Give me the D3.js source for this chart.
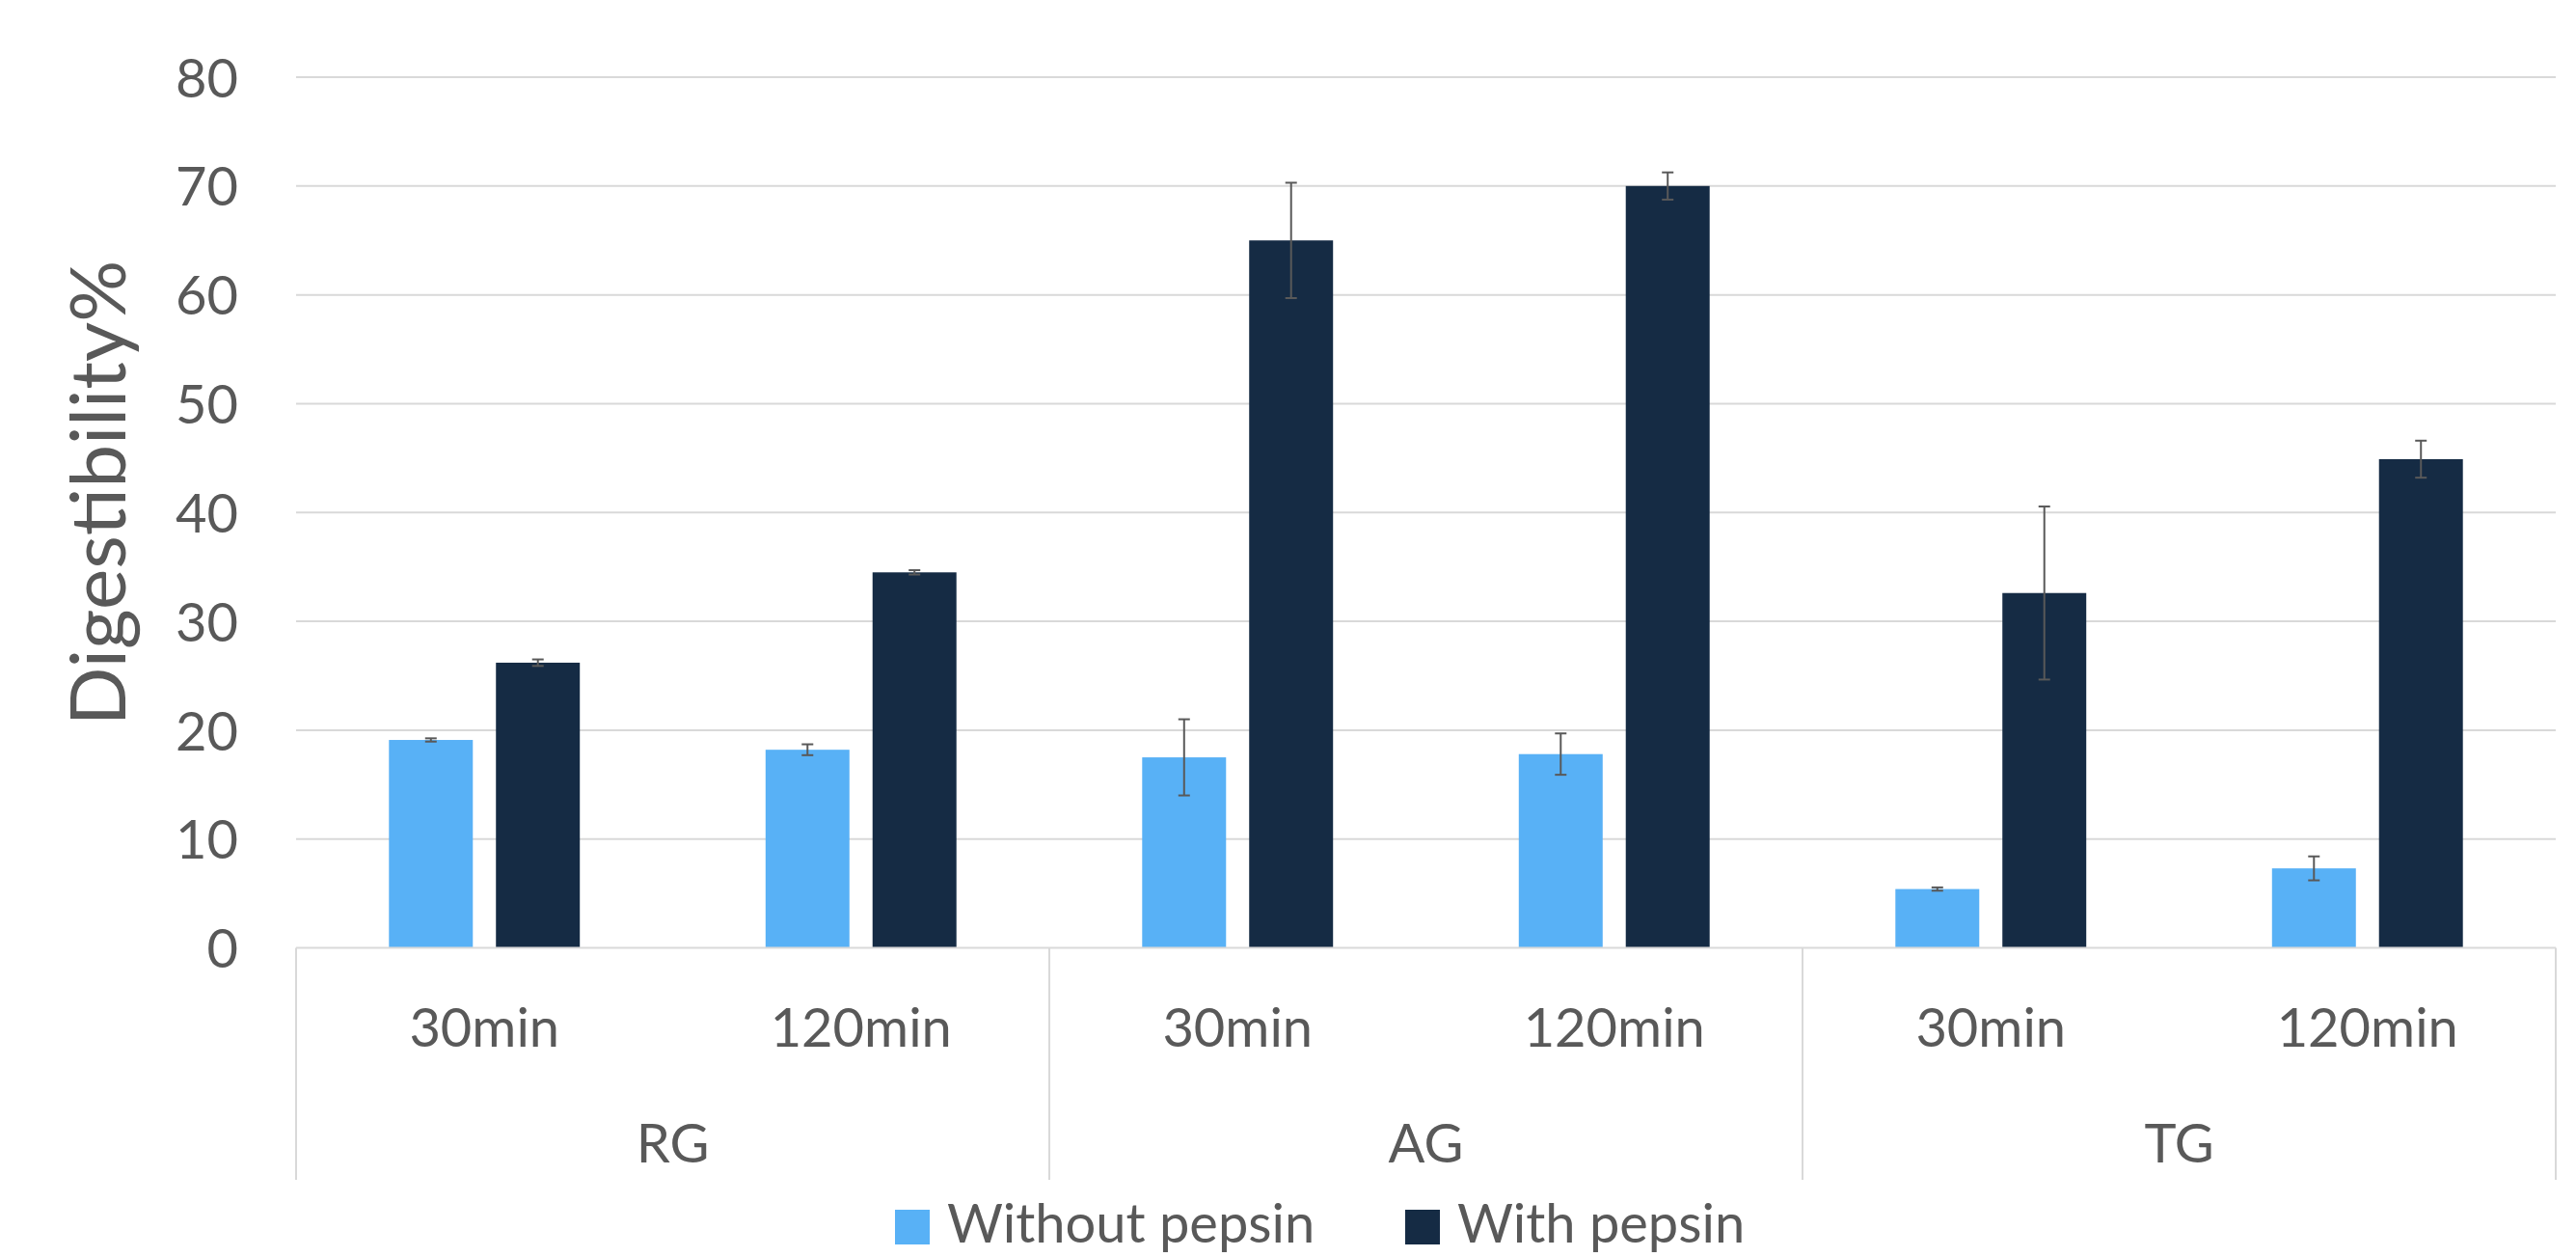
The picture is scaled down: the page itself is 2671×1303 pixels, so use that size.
<!DOCTYPE html>
<html>
<head>
<meta charset="utf-8">
<script src="https://cdn.jsdelivr.net/npm/d3@7"></script>
<style>
    body { margin: 0; background: #fff; }
    svg { display: block; font-family: Lato, "Open Sans", sans-serif; }
</style>
</head>
<body>
<svg width="2671" height="1303"></svg>
<script>
// данные графика
const groups = ["RG", "AG", "TG"]
const times = ["30min", "120min"]
const seriesNames = ["Without pepsin", "With pepsin"]
const withoutPepsin = [19.1, 18.2, 17.5, 17.8, 5.4, 7.3]
const withoutErr = [0.15, 0.5, 3.5, 1.9, 0.15, 1.1]
const withPepsin = [26.2, 34.5, 65.0, 70.0, 32.6, 44.9]
const withErr = [0.3, 0.2, 5.3, 1.25, 7.95, 1.7]
const yTicks = [0, 10, 20, 30, 40, 50, 60, 70, 80]

const colors = ["#58b1f6", "#152b44"]
const textColor = "#595959"
const gridColor = "#d9d9d9"

let svg = d3.select("svg")

attr_area = {
    left: 307,
    right: 2650,
    top: 80,
    bottom: 982.5,
    axisBoxBottom: 1223
}

// категории: группа + время
let cats = []
groups.forEach(g => times.forEach(t => cats.push({group: g, time: t, key: g + "|" + t})))

let rows = cats.map((c, i) => ({
    key: c.key,
    values: [
        {s: 0, v: withoutPepsin[i], e: withoutErr[i]},
        {s: 1, v: withPepsin[i], e: withErr[i]}
    ]
}))

let scaleX = d3.scaleBand()
    .domain(cats.map(c => c.key))
    .range([attr_area.left, attr_area.right])
    .padding(0)

let scaleGroup = d3.scaleBand()
    .domain(groups)
    .range([attr_area.left, attr_area.right])
    .padding(0)

let scaleS = d3.scaleBand()
    .domain([0, 1])
    .range([0, scaleX.bandwidth()])
    .paddingInner(0.216)
    .paddingOuter(0.868)

let scaleY = d3.scaleLinear()
    .domain([0, 80])
    .range([attr_area.bottom, attr_area.top])

// сетка
svg.append("g")
    .selectAll("line")
    .data(yTicks.slice(1))
    .enter()
    .append("line")
    .attr("x1", attr_area.left)
    .attr("x2", attr_area.right)
    .attr("y1", d => scaleY(d))
    .attr("y2", d => scaleY(d))
    .style("stroke", gridColor)
    .style("stroke-width", 2)

// подписи оси OY
let axisY = d3.axisLeft(scaleY).tickValues(yTicks).tickSize(0).tickPadding(60)
svg.append("g")
    .attr("transform", `translate(${attr_area.left}, 0)`)
    .call(axisY)
    .call(g => g.select(".domain").remove())
    .selectAll("text")
    .attr("dy", "0.36em")
    .style("font-family", "Lato")
    .style("font-size", "56px")
    .style("fill", textColor)

// столбцы
let cat = svg.append("g")
    .selectAll("g")
    .data(rows)
    .enter()
    .append("g")
    .attr("transform", d => `translate(${scaleX(d.key)}, 0)`)

cat.selectAll("rect")
    .data(d => d.values)
    .enter()
    .append("rect")
    .attr("x", d => scaleS(d.s))
    .attr("y", d => scaleY(d.v))
    .attr("width", scaleS.bandwidth())
    .attr("height", d => attr_area.bottom - scaleY(d.v))
    .style("fill", d => colors[d.s])

// планки погрешностей
const capW = 6
let err = cat.selectAll(".err")
    .data(d => d.values)
    .enter()
    .append("g")
    .attr("class", "err")
    .style("stroke", textColor)
    .style("stroke-width", 2)

err.append("line")
    .attr("x1", d => scaleS(d.s) + scaleS.bandwidth() / 2)
    .attr("x2", d => scaleS(d.s) + scaleS.bandwidth() / 2)
    .attr("y1", d => scaleY(d.v + d.e))
    .attr("y2", d => scaleY(d.v - d.e))
err.append("line")
    .attr("x1", d => scaleS(d.s) + scaleS.bandwidth() / 2 - capW)
    .attr("x2", d => scaleS(d.s) + scaleS.bandwidth() / 2 + capW)
    .attr("y1", d => scaleY(d.v + d.e))
    .attr("y2", d => scaleY(d.v + d.e))
err.append("line")
    .attr("x1", d => scaleS(d.s) + scaleS.bandwidth() / 2 - capW)
    .attr("x2", d => scaleS(d.s) + scaleS.bandwidth() / 2 + capW)
    .attr("y1", d => scaleY(d.v - d.e))
    .attr("y2", d => scaleY(d.v - d.e))

// ось OX: линия и разделители групп
svg.append("line")
    .attr("x1", attr_area.left)
    .attr("x2", attr_area.right)
    .attr("y1", attr_area.bottom)
    .attr("y2", attr_area.bottom)
    .style("stroke", gridColor)
    .style("stroke-width", 2)

let dividers = groups.map(g => scaleGroup(g)).concat([attr_area.right])
svg.append("g")
    .selectAll("line")
    .data(dividers)
    .enter()
    .append("line")
    .attr("x1", d => d)
    .attr("x2", d => d)
    .attr("y1", attr_area.bottom)
    .attr("y2", attr_area.axisBoxBottom)
    .style("stroke", gridColor)
    .style("stroke-width", 2)

// подписи времени
svg.append("g")
    .selectAll("text")
    .data(cats)
    .enter()
    .append("text")
    .attr("x", d => scaleX(d.key) + scaleX.bandwidth() / 2)
    .attr("y", 1085)
    .attr("text-anchor", "middle")
    .style("font-size", "56px")
    .style("fill", textColor)
    .text(d => d.time)

// подписи групп
svg.append("g")
    .selectAll("text")
    .data(groups)
    .enter()
    .append("text")
    .attr("x", d => scaleGroup(d) + scaleGroup.bandwidth() / 2)
    .attr("y", 1205)
    .attr("text-anchor", "middle")
    .style("font-size", "56px")
    .style("fill", textColor)
    .text(d => d)

// заголовок оси OY
svg.append("text")
    .attr("transform", "translate(130, 511) rotate(-90)")
    .attr("text-anchor", "middle")
    .style("font-size", "80px")
    .style("fill", textColor)
    .text("Digestibility%")

// легенда (чуть выше, чтобы хвосты букв не обрезались)
const legendX = [928, 1457]
let legend = svg.append("g")
    .selectAll("g")
    .data(seriesNames)
    .enter()
    .append("g")
    .attr("transform", (d, i) => `translate(${legendX[i]}, 0)`)

legend.append("rect")
    .attr("x", 0)
    .attr("y", 1254)
    .attr("width", 36)
    .attr("height", 36)
    .style("fill", (d, i) => colors[i])

legend.append("text")
    .attr("x", 54)
    .attr("y", 1288)
    .style("font-size", "56px")
    .style("fill", textColor)
    .text(d => d)
</script>
</body>
</html>
